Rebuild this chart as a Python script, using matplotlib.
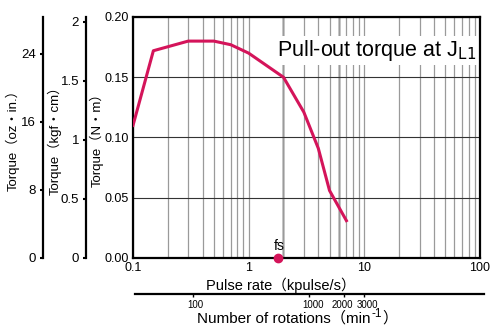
"""Pull-out torque curve of a stepping motor, with extra unit axes."""

import matplotlib
matplotlib.use("Agg")
import matplotlib.pyplot as plt
from matplotlib.ticker import FixedLocator, NullFormatter, NullLocator
from matplotlib.transforms import ScaledTranslation

# pulse rate (kpulse/s) and pull-out torque (N·m)
pulse_rate = [0.1, 0.15, 0.3, 0.5, 0.7, 1.0, 2.0, 3.0, 4.0, 5.0, 7.0]
torque_nm = [0.110, 0.172, 0.180, 0.180, 0.177, 0.170, 0.150, 0.121, 0.091, 0.056, 0.031]

fs_rate = 1.8
nm_ticks = [0.00, 0.05, 0.10, 0.15, 0.20]
kgf_ticks = [0, 0.5, 1, 1.5, 2]
kgf_labels = ["0", "0.5", "1", "1.5", "2"]
oz_ticks = [0, 8, 16, 24]
rate_ticks = [0.1, 1, 10, 100]
rate_labels = ["0.1", "1", "10", "100"]
rpm_ticks = [100, 1000, 2000, 3000]
dark_grid = [2, 6]

NM_TO_KGFCM = 10.197
NM_TO_OZIN = 141.6
KPPS_TO_RPM = 300.0  # 1.8 deg/step -> 200 pulse/rev

CURVE = "#D4145A"
plt.rcParams["font.family"] = ["Liberation Sans", "Noto Sans CJK JP", "DejaVu Sans"]

W, H = 500, 331
fig = plt.figure(figsize=(W / 100, H / 100), dpi=100)


def fx(px):
    return px / W


def fy(py):
    return 1 - py / H


x0, x1, y0, y1 = 133, 480, 17, 258
pos = [fx(x0), fy(y1), (x1 - x0) / W, (y1 - y0) / H]
ax = fig.add_axes(pos)
ax.set_xscale("log")
ax.set_xlim(0.1, 100)
ax.set_ylim(0, 0.2)

# grid: log minor lines in grey, a couple of darker ones
ax.xaxis.set_minor_formatter(NullFormatter())
ax.grid(which="both", axis="x", color="#9a9a9a", linewidth=0.9)
for v in dark_grid:
    ax.axvline(v, color="black", linewidth=1.0, zorder=1)
ax.set_yticks(nm_ticks)
ax.set_yticklabels([f"{v:.2f}" for v in nm_ticks])
ax.grid(which="major", axis="y", color="#333333", linewidth=0.8)
ax.set_xticks(rate_ticks)
ax.set_xticklabels(rate_labels)
ax.tick_params(which="both", length=0, labelsize=9, pad=3)
for s in ax.spines.values():
    s.set_linewidth(1.6)

ax.plot(pulse_rate, torque_nm, color=CURVE, linewidth=2.2, zorder=3)
ax.plot([fs_rate], [0], "o", color=CURVE, markersize=6, clip_on=False, zorder=4)
ax.text(fs_rate * 1.03, 0.004, "fs", fontsize=10, ha="center", va="bottom")

ax.text(0.988, 0.86, "Pull-out torque at J$_{\\mathrm{L1}}$", transform=ax.transAxes,
        fontsize=15.5, ha="right", va="center",
        bbox=dict(facecolor="white", edgecolor="none", pad=1.5))

fig.text(fx(97), fy(137), "Torque（N・m）", rotation=90, fontsize=9.5,
         ha="center", va="center")
fig.text(fx(281), fy(285), "Pulse rate（kpulse/s）", fontsize=10.5,
         ha="center", va="center")


# extra torque axes on the left
def side_axis(xpix, top, ticks, labels):
    a = fig.add_axes([fx(xpix), pos[1], 0.0001, pos[3]])
    a.set_ylim(0, top)
    a.set_xticks([])
    for k in ("right", "top", "bottom"):
        a.spines[k].set_visible(False)
    a.spines["left"].set_linewidth(1.6)
    a.set_yticks(ticks)
    a.set_yticklabels(labels)
    a.tick_params(axis="y", length=2, width=1.5, labelsize=9.5, pad=3)
    a.patch.set_visible(False)
    return a


side_axis(86, 0.2 * NM_TO_KGFCM, kgf_ticks, kgf_labels)
side_axis(43, 0.2 * NM_TO_OZIN, oz_ticks, [str(v) for v in oz_ticks])
fig.text(fx(55), fy(137), "Torque（kgf・cm）", rotation=90, fontsize=9.5,
         ha="center", va="center")
fig.text(fx(13), fy(137), "Torque（oz・in.）", rotation=90, fontsize=9.5,
         ha="center", va="center")

# rotation speed axis below
rx0, rx1, ry = 135, 484, 294
ra = fig.add_axes([fx(rx0), fy(ry), (rx1 - rx0) / W, 0.0001])
ra.set_xscale("log")
lo = 0.1 * 10 ** ((rx0 - x0) / (x1 - x0) * 3)
hi = 0.1 * 10 ** ((rx1 - x0) / (x1 - x0) * 3)
ra.set_xlim(lo * KPPS_TO_RPM, hi * KPPS_TO_RPM)
ra.set_yticks([])
for k in ("left", "right", "top"):
    ra.spines[k].set_visible(False)
ra.spines["bottom"].set_linewidth(1.6)
ra.xaxis.set_major_locator(FixedLocator(rpm_ticks))
ra.xaxis.set_minor_locator(NullLocator())
ra.set_xticklabels([str(v) for v in rpm_ticks])
ra.tick_params(axis="x", length=2, width=1, labelsize=7, pad=2)
ra.patch.set_visible(False)
# the 2000 / 3000 labels sit a little apart in the original
lbls = ra.get_xticklabels()
for lbl, dx in zip(lbls, [2, 4, -2, 3]):
    lbl.set_transform(lbl.get_transform() + ScaledTranslation(dx / 100, 0, fig.dpi_scale_trans))

# "Number of rotations（min-1）" with a raised -1, built from pieces
fig.canvas.draw()
r = fig.canvas.get_renderer()
t1 = fig.text(fx(197), fy(318), "Number of rotations（min", fontsize=11,
              ha="left", va="center")
e1 = t1.get_window_extent(r)
t2 = fig.text(e1.x1 / W + 0.002, fy(314), "-1", fontsize=8.5, ha="left", va="center")
e2 = t2.get_window_extent(r)
fig.text(e2.x1 / W, fy(318), "）", fontsize=11, ha="left", va="center")

fig.savefig("out.png", dpi=100)
